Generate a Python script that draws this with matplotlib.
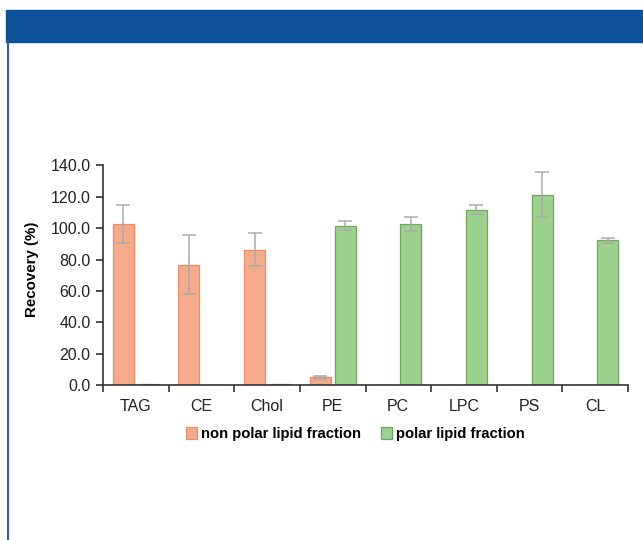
import numpy as np
import matplotlib
matplotlib.use('Agg')
import matplotlib.pyplot as plt
from matplotlib.patches import Rectangle
from matplotlib.lines import Line2D

plt.rcParams['font.family'] = ['Liberation Sans', 'DejaVu Sans']

# Lipid classes and recoveries (%) in each SPE fraction
lipids = ['TAG', 'CE', 'Chol', 'PE', 'PC', 'LPC', 'PS', 'CL']
nonpolar = [102.6, 76.7, 86.4, 4.9, 0.0, 0.0, 0.3, 0.0]
nonpolar_err = [12.0, 18.7, 10.5, 1.0, 0.0, 0.0, 0.0, 0.0]
polar = [0.5, 0.0, 0.5, 101.7, 102.6, 111.9, 121.5, 92.2]
polar_err = [0.0, 0.0, 0.0, 3.0, 4.5, 2.6, 14.5, 1.8]
yticks = [0, 20, 40, 60, 80, 100, 120, 140]

fig = plt.figure(figsize=(6.43, 5.40), dpi=100)

# header band and left rule
fig.patches.append(Rectangle((6 / 643, 1 - 42 / 540), 1 - 6 / 643, 32 / 540,
                             transform=fig.transFigure, color='#0d5197', zorder=0))
fig.lines.append(Line2D([8 / 643, 8 / 643], [0, 1 - 42 / 540], transform=fig.transFigure,
                        color='#2a5fb0', lw=1.5))

ax = fig.add_axes([103 / 643, 1 - 385 / 540, 525 / 643, 219.5 / 540])

x = np.arange(len(lipids))
w = 0.32
off = 0.19
ax.bar(x - off, nonpolar, w, color='#f5ab8c', edgecolor='#ef8d62', linewidth=0.9,
       label='non polar lipid fraction', zorder=2)
ax.bar(x + off, polar, w, color='#9dd18f', edgecolor='#6aa85c', linewidth=0.9,
       label='polar lipid fraction', zorder=2)

ekw = dict(fmt='none', ecolor='#ababab', elinewidth=1.1, capsize=5, capthick=1.1, zorder=4)
nx = [xi - off for xi, e in zip(x, nonpolar_err) if e > 0]
ny = [v for v, e in zip(nonpolar, nonpolar_err) if e > 0]
ax.errorbar(nx, ny, yerr=[e for e in nonpolar_err if e > 0], **ekw)
px = [xi + off for xi, e in zip(x, polar_err) if e > 0]
py = [v for v, e in zip(polar, polar_err) if e > 0]
ax.errorbar(px, py, yerr=[e for e in polar_err if e > 0], **ekw)

ax.set_xlim(-0.5, len(lipids) - 0.5)
ax.set_ylim(0, 140)
ax.set_yticks(yticks)
ax.set_yticklabels([f'{t:.1f}' for t in yticks], fontsize=11.5, color='#222222')
ax.set_xticks(x)
ax.set_xticklabels(lipids, fontsize=11.5, color='#222222')
ax.set_xticks(np.arange(len(lipids) + 1) - 0.5, minor=True)
ax.tick_params(axis='x', which='major', length=0, pad=10)
ax.tick_params(axis='x', which='minor', length=5, width=1.2, color='#333333')
ax.tick_params(axis='y', length=5, width=1.2, color='#333333', pad=4)
for s in ['top', 'right']:
    ax.spines[s].set_visible(False)
for s in ['left', 'bottom']:
    ax.spines[s].set_color('#333333')
    ax.spines[s].set_linewidth(1.2)

ax.set_ylabel('Recovery (%)', fontsize=10.8, fontweight='bold')
ax.yaxis.set_label_coords(-0.122, 0.527)

ax.legend(loc='upper center', bbox_to_anchor=(0.481, -0.13), ncol=2, frameon=False,
          prop={'weight': 'bold', 'size': 10.7}, handlelength=0.75, handleheight=0.9,
          handletextpad=0.3, columnspacing=1.3)

fig.savefig('out.png', dpi=100)
